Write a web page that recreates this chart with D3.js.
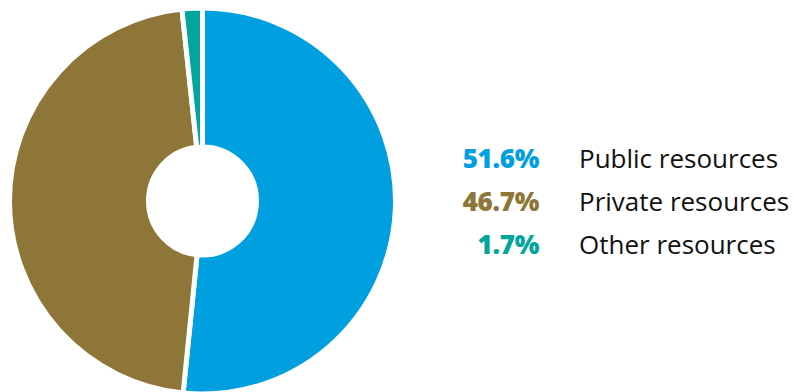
<!DOCTYPE html>
<html>
<head>
<meta charset="utf-8">
<script src="https://cdn.jsdelivr.net/npm/d3@7"></script>
<style>
  html, body { margin: 0; padding: 0; background: #fff; }
  svg { display: block; }
</style>
</head>
<body>
<svg id="chart"></svg>
<script>
// data
var categories = ["Public resources", "Private resources", "Other resources"];
var values = [51.6, 46.7, 1.7];
var pctLabels = ["51.6%", "46.7%", "1.7%"];
var colors = ["#009fe0", "#8e7638", "#00a69c"];

var w = 794, h = 392;
var svg = d3.select("#chart").attr("width", w).attr("height", h);

// donut
var cx = 202.5, cy = 201, outerR = 193, innerR = 54;

var pie = d3.pie().sort(null).value(function(d) { return d; });
var arc = d3.arc().innerRadius(innerR).outerRadius(outerR);

var g = svg.append("g").attr("transform", "translate(" + cx + "," + cy + ")");
g.selectAll("path")
  .data(pie(values))
  .enter()
  .append("path")
    .attr("d", arc)
    .attr("fill", function(d, i) { return colors[i]; })
    .attr("stroke", "#fff")
    .attr("stroke-width", 5)
    .attr("stroke-linejoin", "miter");

// legend
var rowY = d3.scalePoint().domain(categories).range([168, 254]);

var legend = svg.append("g");
var rows = legend.selectAll("g.row")
  .data(categories)
  .enter()
  .append("g")
    .attr("class", "row")
    .attr("transform", function(d) { return "translate(0," + rowY(d) + ")"; });

rows.append("text")
  .attr("x", 539)
  .attr("text-anchor", "end")
  .attr("font-family", "'Open Sans', sans-serif")
  .attr("font-weight", 800)
  .attr("font-size", 26)
  .attr("letter-spacing", -0.3)
  .attr("fill", function(d, i) { return colors[i]; })
  .text(function(d, i) { return pctLabels[i]; });

rows.append("text")
  .attr("x", 579)
  .attr("font-family", "'Open Sans', sans-serif")
  .attr("font-size", 26)
  .attr("fill", "#111")
  .text(function(d) { return d; });
</script>
</body>
</html>
